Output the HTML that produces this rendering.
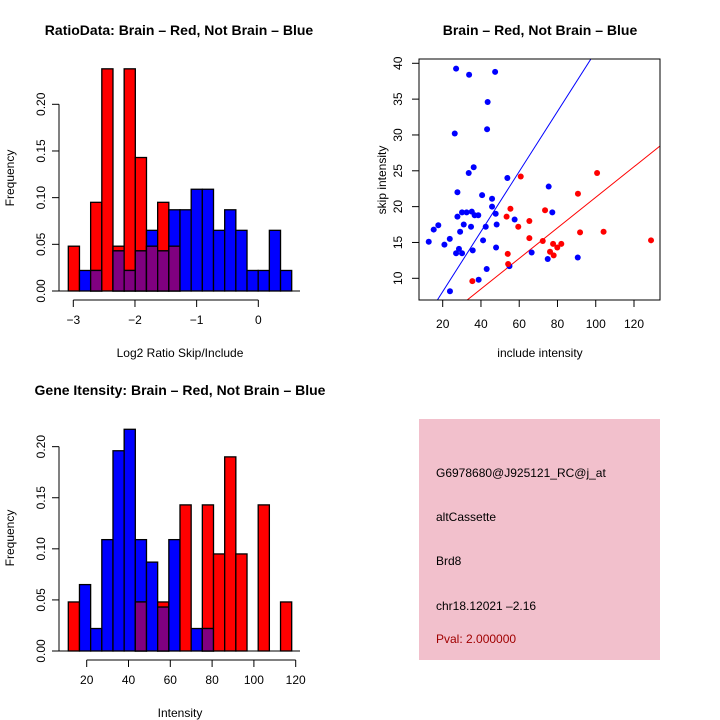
<!DOCTYPE html>
<html><head><meta charset="utf-8"><style>
html,body{margin:0;padding:0;background:#fff;}
svg{display:block;font-family:"Liberation Sans",sans-serif;}
</style></head><body>
<svg id="s" width="720" height="720" xmlns="http://www.w3.org/2000/svg">
<rect width="720" height="720" fill="#fff"/>
<text x="179" y="35" text-anchor="middle" font-size="14" font-weight="bold">RatioData: Brain – Red, Not Brain – Blue</text>
<text x="540" y="35" text-anchor="middle" font-size="14" font-weight="bold">Brain – Red, Not Brain – Blue</text>
<text x="180" y="395" text-anchor="middle" font-size="14" font-weight="bold">Gene Itensity: Brain – Red, Not Brain – Blue</text>
<text x="180" y="357" text-anchor="middle" font-size="12">Log2 Ratio Skip/Include</text>
<text x="180" y="717" text-anchor="middle" font-size="12">Intensity</text>
<text x="540" y="357" text-anchor="middle" font-size="12">include intensity</text>
<text transform="translate(14,178) rotate(-90)" text-anchor="middle" font-size="12">Frequency</text>
<text transform="translate(14,538) rotate(-90)" text-anchor="middle" font-size="12">Frequency</text>
<text transform="translate(386,180) rotate(-90)" text-anchor="middle" font-size="12">skip intensity</text>
<g>
<rect x="419" y="419" width="241" height="241" fill="#f2c0cc"/>
<text x="436" y="477" font-size="12">G6978680@J925121_RC@j_at</text>
<text x="436" y="521" font-size="12">altCassette</text>
<text x="436" y="565" font-size="12">Brd8</text>
<text x="436" y="610" font-size="12">chr18.12021 –2.16</text>
<text x="436" y="643" font-size="12" fill="#a00000">Pval: 2.000000</text>
</g>
</svg>
<script>
// Ratio histogram data
const ratioRed = [0.048,0,0.095,0.238,0.048,0.238,0.143,0.048,0.095,0.048,0,0,0,0,0,0,0,0,0,0];
const ratioBlue = [0,0.022,0.022,0,0.043,0.022,0.043,0.065,0.043,0.087,0.087,0.109,0.109,0.065,0.087,0.065,0.022,0.022,0.065,0.022];
const ratioTicks = [-3,-2,-1,0];
const freqTicksTop = [0,0.05,0.10,0.15,0.20];
// Intensity histogram data
const intRed = [0.048,0,0,0,0,0,0.048,0,0.048,0,0.143,0,0.143,0.095,0.190,0.095,0,0.143,0,0.048];
const intBlue = [0,0.065,0.022,0.109,0.196,0.217,0.109,0.087,0.043,0.109,0,0.022,0.022,0,0,0,0,0,0,0];
const intTicks = [20,40,60,80,100,120];
const freqTicksBot = [0,0.05,0.10,0.15,0.20];
// Scatter data
const blueX = [27.0,33.8,47.4,43.5,43.2,26.3,36.2,33.6,53.8,75.4,27.7,40.6,45.8,45.8,47.7,77.3,30.1,32.5,35.2,36.7,38.6,27.7,57.6,17.7,31.0,34.8,42.5,48.2,15.3,29.1,23.7,41.1,12.7,20.9,28.5,47.9,35.7,27.0,30.1,66.5,74.9,90.6,54.9,43.0,38.8,23.8];
const blueY = [39.26,38.4,38.8,34.6,30.8,30.2,25.5,24.7,24.0,22.8,22.0,21.6,21.1,20.0,19.0,19.2,19.2,19.2,19.3,18.8,18.8,18.6,18.2,17.4,17.5,17.2,17.2,17.5,16.8,16.5,15.5,15.3,15.1,14.7,14.1,14.3,13.9,13.5,13.5,13.6,12.7,12.9,11.7,11.3,9.8,8.2];
const redX = [100.7,60.8,90.7,55.4,73.5,53.4,65.3,59.5,91.8,104.1,65.3,72.3,128.9,77.7,82.0,79.9,76.1,78.0,54.0,54.2,35.5];
const redY = [24.7,24.2,21.8,19.7,19.5,18.6,18.0,17.2,16.4,16.5,15.6,15.2,15.3,14.8,14.8,14.3,13.7,13.2,13.4,12.0,9.6];
const blueFit = [-0.24,0.419];
const redFit = [-0.02,0.2132];
const scatterXTicks = [20,40,60,80,100,120];
const scatterYTicks = [10,15,20,25,30,35,40];

const NS='http://www.w3.org/2000/svg';
const svg=document.getElementById('s');
function mk(tag,attrs,parent){const e=document.createElementNS(NS,tag);for(const k in attrs)e.setAttribute(k,attrs[k]);(parent||svg).appendChild(e);return e;}

function hist(red,blue,x0,bw,yScale,base,prefix){
  const g=mk('g',{});
  
  
  for(let i=0;i<red.length;i++){
    const x=x0+i*bw;
    const r=red[i],b=blue[i];
    const order = r>=b ? [['#ff0000',r,'red'],['#0000ff',b,'blue']] : [['#0000ff',b,'blue'],['#ff0000',r,'red']];
    for(const [c,v,n] of order){
      if(v<=0)continue;
      const e=mk('rect',{x:x,y:yScale(v),width:bw,height:base-yScale(v),fill:c,stroke:'#000','stroke-width':1.3},g);
      
      
    }
    if(r>0&&b>0){
      const m=Math.min(r,b);
      const e=mk('rect',{x:x,y:yScale(m),width:bw,height:base-yScale(m),fill:'#800080',stroke:'#000','stroke-width':1.3},g);
      
      
    }
  }
}
function yAxis(ticks,yScale,ax,prefix){
  const g=mk('g',{});
  
  
  mk('line',{x1:ax,x2:ax,y1:yScale(ticks[ticks.length-1]),y2:yScale(ticks[0]),stroke:'#000'},g);
  ticks.forEach(t=>{
    const y=yScale(t);
    mk('line',{x1:ax-7,x2:ax,y1:y,y2:y,stroke:'#000'},g);
    const lab=(typeof t==='number'&&prefix!=='scatter')?t.toFixed(2):String(t);
    const e=mk('text',{transform:`translate(${ax-14},${y}) rotate(-90)`,'text-anchor':'middle','font-size':12},g);
    e.textContent=lab;
  });
}
function xAxis(ticks,xScale,ay,prefix){
  const g=mk('g',{});
  
  
  mk('line',{x1:xScale(ticks[0]),x2:xScale(ticks[ticks.length-1]),y1:ay,y2:ay,stroke:'#000'},g);
  ticks.forEach(t=>{
    const x=xScale(t);
    mk('line',{x1:x,x2:x,y1:ay,y2:ay+7,stroke:'#000'},g);
    const e=mk('text',{x:x,y:ay+24,'text-anchor':'middle','font-size':12},g);
    e.textContent=String(t).replace('-','−');
  });
}
// Top-left
const yTop=v=>291-v*933.5;
const xRatio=v=>73.3+(v+3)*61.67;
hist(ratioRed,ratioBlue,68.3,11.17,yTop,291,'ratio');
mk('line',{x1:52,x2:300,y1:291,y2:291,stroke:'#000'});
yAxis(freqTicksTop,yTop,59,'ratio');
xAxis(ratioTicks,xRatio,300,'ratio');
// Bottom-left
const yBot=v=>651-v*1021.7;
const xInt=v=>86.7+(v-20)*2.09;
hist(intRed,intBlue,68.3,11.17,yBot,651,'intensity');
mk('line',{x1:52,x2:300,y1:651,y2:651,stroke:'#000'});
yAxis(freqTicksBot,yBot,59,'intensity');
xAxis(intTicks,xInt,660,'intensity');
// Scatter
const sx=v=>442.7+(v-20)*1.913;
const sy=v=>278.3-(v-10)*7.167;
const clip=mk('clipPath',{id:'sc'});mk('rect',{x:419,y:59,width:241,height:241},clip);
const pg=mk('g',{'clip-path':'url(#sc)'});


function fitLine(f,c,n){
  const xa=0,xb=150;
  const l=mk('line',{x1:sx(xa),y1:sy(f[0]+f[1]*xa),x2:sx(xb),y2:sy(f[0]+f[1]*xb),stroke:c,'stroke-width':1},pg);
  
  
}
fitLine(blueFit,'#0000ff','blue-fit-line');
fitLine(redFit,'#ff0000','red-fit-line');
blueX.forEach((v,i)=>{const c=mk('circle',{cx:sx(v),cy:sy(blueY[i]),r:3,fill:'#0000ff'},pg);
  
  });
redX.forEach((v,i)=>{const c=mk('circle',{cx:sx(v),cy:sy(redY[i]),r:3,fill:'#ff0000'},pg);
  
  });
const fr=mk('rect',{x:419,y:59,width:241,height:241,fill:'none',stroke:'#000'});


(function(){
  const g=mk('g',{});
  
  
  scatterYTicks.forEach(t=>{const y=sy(t);mk('line',{x1:412,x2:419,y1:y,y2:y,stroke:'#000'},g);
    const e=mk('text',{transform:`translate(402,${y}) rotate(-90)`,'text-anchor':'middle','font-size':12},g);e.textContent=t;});
  const h=mk('g',{});
  
  
  scatterXTicks.forEach(t=>{const x=sx(t);mk('line',{x1:x,x2:x,y1:300,y2:307,stroke:'#000'},h);
    const e=mk('text',{x:x,y:328,'text-anchor':'middle','font-size':12},h);e.textContent=t;});
})();
</script>
</body></html>
